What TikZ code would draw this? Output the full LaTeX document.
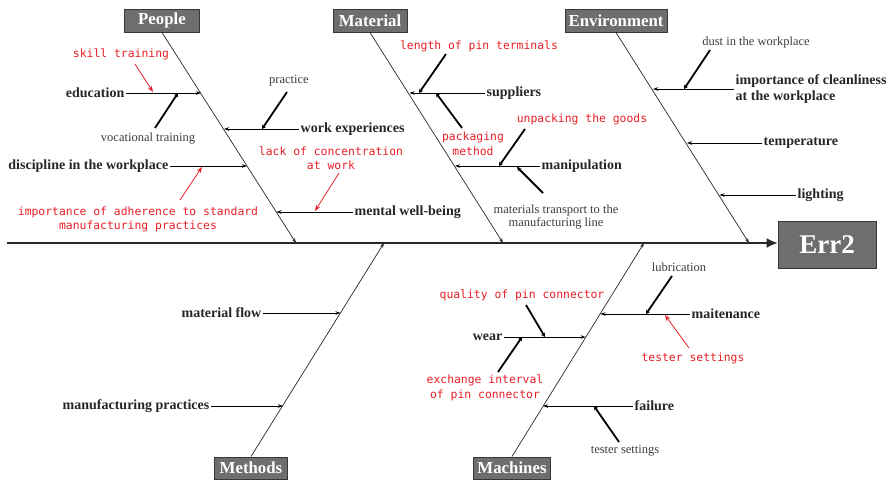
\documentclass[tikz,border=0pt]{standalone}
\usepackage{fontspec}
\setmainfont{Liberation Serif}
\newfontfamily\monofam{DejaVu Sans Mono}
\usetikzlibrary{arrows.meta,calc}

\definecolor{boxfill}{RGB}{110,110,110}
\definecolor{boxline}{RGB}{55,55,55}
\definecolor{bonecol}{RGB}{40,40,40}
\definecolor{notered}{RGB}{232,30,37}
\definecolor{subgray}{RGB}{60,60,60}

\tikzset{
  cat/.style={draw=boxline, line width=1pt, fill=boxfill, text=white,
    font=\fontsize{16.8}{18}\selectfont\bfseries, minimum height=23pt,
    inner xsep=3pt, inner ysep=0pt},
  effect/.style={draw=boxline, line width=1pt, fill=boxfill, text=white,
    font=\fontsize{27}{30}\selectfont\bfseries, minimum width=98pt,
    minimum height=47pt},
  cause/.style={font=\fontsize{14}{15.5}\selectfont\bfseries, text=black!85,
    inner sep=1.5pt},
  sub/.style={font=\fontsize{12.5}{13.5}\selectfont, text=subgray,
    align=center, inner sep=0pt},
  note/.style={font=\monofam\fontsize{11.4}{14.5}\selectfont, text=notered,
    align=center, inner sep=0pt},
  spine/.style={draw=bonecol, line width=1.2pt, -{Latex[length=11pt,width=10pt]}},
  bone/.style={draw=bonecol, line width=0.7pt, -{Stealth[length=5pt,width=3.5pt]}},
  branch/.style={draw=black, line width=1pt, -{Stealth[length=5pt,width=3.5pt]}},
  subarrow/.style={draw=black, line width=1.8pt, -{Stealth[length=4pt,width=4.5pt]}},
  redarrow/.style={draw=notered, line width=0.8pt, -{Stealth[length=6pt,width=4.5pt]}},
}

\begin{document}
\begin{tikzpicture}[x=1pt,y=-1pt]
\path[use as bounding box] (0,0) rectangle (894,482);

% ---- effect and spine ----
\node[effect] (err) at (827,244.5) {Err2};
\coordinate (tail) at (7,243);
\draw[spine] (tail) -- (tail -| err.west);

% ---- category boxes ----
\node[cat, minimum width=75pt] (people) at (162,20.5) {People};
\node[cat, minimum width=74pt] (material) at (370,20.5) {Material};
\node[cat, minimum width=102pt] (env) at (616,20.5) {Environment};
\node[cat, minimum width=73pt, minimum height=22pt] (methods) at (251,468) {Methods};
\node[cat, minimum width=77pt, minimum height=22pt] (machines) at (512,468) {Machines};

% ---- main bones ----
\coordinate (pJ) at (296,243);
\coordinate (mJ) at (503,243);
\coordinate (eJ) at (749,243);
\coordinate (meJ) at (384,243);
\coordinate (maJ) at (644,243);
\draw[bone] (people.south) -- (pJ);
\draw[bone] (material.south) -- (mJ);
\draw[bone] (env.south) -- (eJ);
\draw[bone] (methods.north) -- (meJ);
\draw[bone] (machines.north) -- (maJ);

% ---- points where branches meet the bones ----
\coordinate (pb1) at (201,93);
\coordinate (pb2) at (224,129);
\coordinate (pb3) at (247,166);
\coordinate (pb4) at (276.5,212);
\coordinate (mb1) at (409.5,93);
\coordinate (mb2) at (455,166);
\coordinate (eb1) at (653,89);
\coordinate (eb2) at (687,143);
\coordinate (eb3) at (719.5,195);
\coordinate (meb1) at (340.5,313);
\coordinate (meb2) at (283,406);
\coordinate (mab1) at (600.5,314);
\coordinate (mab2) at (585.6,337);
\coordinate (mab3) at (543,406);

% ---- People ----
\node[cause, anchor=east] (education) at (126,93) {education};
\draw[branch] (education.east) -- (pb1);
\node[note] (skill) at (121,54) {skill training};
\coordinate (skillS) at (135,64);
\coordinate (skillE) at (153,92);
\draw[redarrow] (skillS) -- (skillE);
\node[sub] (vocational) at (148,139) {vocational training};
\coordinate (vocS) at (155,128);
\coordinate (vocE) at (178,93);
\draw[subarrow] (vocS) -- (vocE);

\node[cause, anchor=west] (workexp) at (299,129) {work experiences};
\draw[branch] (workexp.west) -- (pb2);
\node[sub] (practice) at (289,81) {practice};
\coordinate (pracS) at (287,92);
\coordinate (pracE) at (262,129);
\draw[subarrow] (pracS) -- (pracE);

\node[cause, anchor=east] (discipline) at (170,166) {discipline in the workplace};
\draw[branch] (discipline.east) -- (pb3);
\node[note] (adherence) at (138,219.5) {importance of adherence to standard\\manufacturing practices};
\coordinate (adhS) at (180,200);
\coordinate (adhE) at (202,167);
\draw[redarrow] (adhS) -- (adhE);

\node[cause, anchor=west] (mental) at (353,212) {mental well-being};
\draw[branch] (mental.west) -- (pb4);
\node[note] (lack) at (331,158) {lack of concentration\\at work};
\coordinate (lackS) at (339,173);
\coordinate (lackE) at (315,211);
\draw[redarrow] (lackS) -- (lackE);

% ---- Material ----
\node[cause, anchor=west] (suppliers) at (485,93) {suppliers};
\draw[branch] (suppliers.west) -- (mb1);
\node[note] (pinlen) at (479,46) {length of pin terminals};
\coordinate (pinS) at (446,54);
\coordinate (pinE) at (419,93);
\draw[subarrow] (pinS) -- (pinE);
\node[note] (packaging) at (473,143.5) {packaging\\method};
\coordinate (packS) at (462,128);
\coordinate (packE) at (436,93);
\draw[subarrow] (packS) -- (packE);

\node[cause, anchor=west] (manipulation) at (540,166) {manipulation};
\draw[branch] (manipulation.west) -- (mb2);
\node[note] (unpacking) at (582,119) {unpacking the goods};
\coordinate (unpS) at (525,129);
\coordinate (unpE) at (499,166);
\draw[subarrow] (unpS) -- (unpE);
\node[sub] (transport) at (556,217) {materials transport to the\\manufacturing line};
\coordinate (trS) at (543,193);
\coordinate (trE) at (517,167);
\draw[subarrow] (trS) -- (trE);

% ---- Environment ----
\node[cause, anchor=west, align=left] (cleanliness) at (734,89) {importance of cleanliness\\at the workplace};
\draw[branch] (cleanliness.west) -- (eb1);
\node[sub] (dust) at (756,42) {dust in the workplace};
\coordinate (dustS) at (710,50);
\coordinate (dustE) at (684,89);
\draw[subarrow] (dustS) -- (dustE);
\node[cause, anchor=west] (temperature) at (762,143) {temperature};
\draw[branch] (temperature.west) -- (eb2);
\node[cause, anchor=west] (lighting) at (796,195) {lighting};
\draw[branch] (lighting.west) -- (eb3);

% ---- Methods ----
\node[cause, anchor=east] (flow) at (263,313) {material flow};
\draw[branch] (flow.east) -- (meb1);
\node[cause, anchor=east] (practices) at (211,406) {manufacturing practices};
\draw[branch] (practices.east) -- (meb2);

% ---- Machines ----
\node[cause, anchor=west] (maintenance) at (690,314) {maitenance};
\draw[branch] (maintenance.west) -- (mab1);
\node[sub] (lubrication) at (679,267) {lubrication};
\coordinate (lubS) at (672,276);
\coordinate (lubE) at (646,314);
\draw[subarrow] (lubS) -- (lubE);
\node[note] (tester) at (693,358) {tester settings};
\coordinate (tsS) at (689,348);
\coordinate (tsE) at (665,315);
\draw[redarrow] (tsS) -- (tsE);

\node[cause, anchor=east] (wear) at (504,337) {wear};
\draw[branch] (wear.east) -- (mab2);
\node[note] (quality) at (522,295.5) {quality of pin connector};
\coordinate (qS) at (526,305);
\coordinate (qE) at (545,337);
\draw[subarrow] (qS) -- (qE);
\node[note] (exchange) at (485,388) {exchange interval\\of pin connector};
\coordinate (exS) at (498,372);
\coordinate (exE) at (522,337);
\draw[subarrow] (exS) -- (exE);

\node[cause, anchor=west] (failure) at (633,406) {failure};
\draw[branch] (failure.west) -- (mab3);
\node[sub] (testersub) at (625,451) {tester settings};
\coordinate (tgS) at (619,442);
\coordinate (tgE) at (594,406);
\draw[subarrow] (tgS) -- (tgE);

\end{tikzpicture}
\end{document}
